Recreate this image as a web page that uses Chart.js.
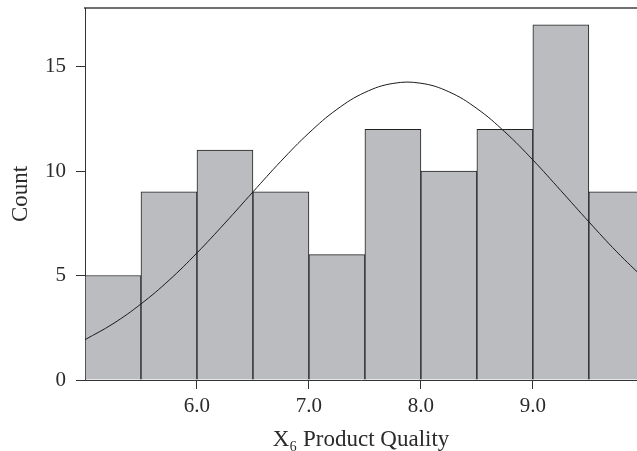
<!DOCTYPE html>
<html>
<head>
<meta charset="utf-8">
<script src="https://cdn.jsdelivr.net/npm/chart.js@4"></script>
<style>
  html, body { margin: 0; padding: 0; background: #ffffff; }
  #wrap { width: 637px; height: 451px; }
</style>
</head>
<body>
<div id="wrap"><canvas id="c" width="637" height="451"></canvas></div>
<script>
// Histogram bins (centres of 0.5-wide bins) and counts
const binCenters = [5.25, 5.75, 6.25, 6.75, 7.25, 7.75, 8.25, 8.75, 9.25, 9.75];
const counts     = [5, 9, 11, 9, 6, 12, 10, 12, 17, 9];

// Overlay curve, values
const curveX = [5.0, 5.25, 5.5, 5.75, 6.0, 6.25, 6.5, 6.75, 7.0, 7.25, 7.5, 7.75, 8.0, 8.25, 8.5, 8.75, 9.0, 9.25, 9.5, 9.75, 10.0];
const curveY = [1.93, 2.69, 3.64, 4.77, 6.08, 7.51, 9.00, 10.47, 11.82, 12.95, 13.76, 14.19, 14.20, 13.79, 12.99, 11.87, 10.53, 9.06, 7.57, 6.13, 4.82];

// Tick labels
const xTicks = [6, 7, 8, 9];
const yTicks = [0, 5, 10, 15];

const xTitle = "X\u2086 Product Quality";
const yTitle = "Count";

const FONT = "'Liberation Serif', 'Times New Roman', serif";
const TXT = '#2a2a2a';
const AX = '#333333';

const barData = binCenters.map((x, i) => ({ x: x, y: counts[i] }));
const lineData = curveX.map((x, i) => ({ x: x, y: curveY[i] }));

new Chart(document.getElementById('c'), {
  type: 'bar',
  data: {
    datasets: [
      {
        type: 'line',
        data: lineData,
        borderColor: '#1a1a1a',
        borderWidth: 1,
        pointRadius: 0,
        tension: 0.4,
        fill: false,
        order: 0,
        xAxisID: 'x',
        yAxisID: 'y'
      },
      {
        type: 'bar',
        data: barData,
        backgroundColor: '#bbbcc0',
        borderColor: '#222222',
        borderWidth: 1,
        borderSkipped: 'bottom',
        barPercentage: 1.0,
        categoryPercentage: 1.0,
        grouped: false,
        order: 1,
        xAxisID: 'x',
        yAxisID: 'y'
      }
    ]
  },
  options: {
    responsive: false,
    animation: false,
    devicePixelRatio: 1,
    layout: { padding: { top: 8, right: 0, bottom: 0, left: 0 } },
    plugins: { legend: { display: false }, tooltip: { enabled: false } },
    scales: {
      x: {
        type: 'linear',
        position: 'bottom',
        offset: false,
        min: 5.0,
        max: 9.93,
        afterBuildTicks: (s) => { s.ticks = xTicks.map(v => ({ value: v })); },
        afterFit: (s) => { s.height = 71; s.paddingLeft = 0; s.paddingRight = 0; },
        ticks: {
          color: TXT,
          font: { family: FONT, size: 21 },
          padding: 5,
          maxRotation: 0,
          autoSkip: false,
          callback: (v) => Number(v).toFixed(1)
        },
        grid: { offset: false, drawOnChartArea: false, drawTicks: true, tickLength: 9, color: AX, lineWidth: 1 },
        border: { display: true, color: AX, width: 1 },
        title: {
          display: true,
          text: xTitle,
          color: TXT,
          font: { family: FONT, size: 23, lineHeight: 1.0 },
          padding: { top: 0, bottom: 0 }
        }
      },
      xTop: {
        type: 'linear',
        position: 'top',
        offset: false,
        min: 0, max: 1,
        afterFit: (s) => { s.height = 0; s.paddingLeft = 0; s.paddingRight = 0; },
        ticks: { display: false },
        grid: { display: false, drawTicks: false },
        border: { display: true, color: '#707070', width: 2 }
      },
      y: {
        type: 'linear',
        position: 'left',
        min: 0,
        max: 17.8,
        afterBuildTicks: (s) => { s.ticks = yTicks.map(v => ({ value: v })); },
        afterFit: (s) => { s.width = 85; s.paddingTop = 0; s.paddingBottom = 0; },
        ticks: {
          color: TXT,
          font: { family: FONT, size: 21 },
          padding: 10,
          callback: (v) => String(v)
        },
        grid: { drawOnChartArea: false, drawTicks: true, tickLength: 9, color: AX, lineWidth: 1 },
        border: { display: true, color: AX, width: 1 },
        title: {
          display: true,
          text: yTitle,
          color: TXT,
          font: { family: FONT, size: 23, lineHeight: 1.0 },
          padding: { top: 9, bottom: 0 }
        }
      }
    }
  }
});
</script>
</body>
</html>
